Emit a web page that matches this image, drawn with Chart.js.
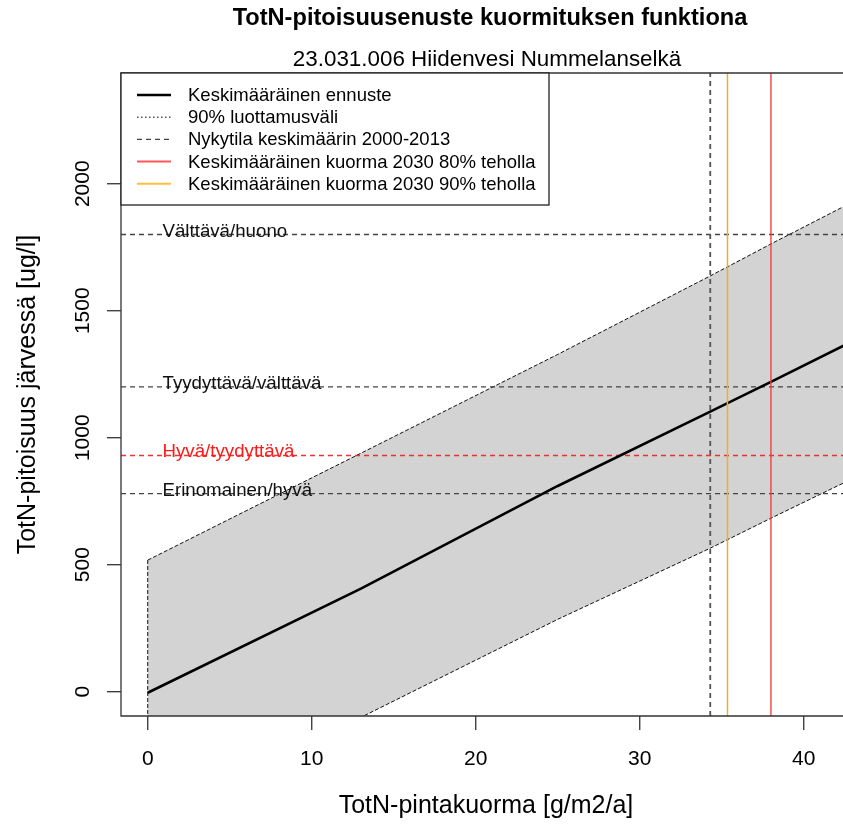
<!DOCTYPE html>
<html>
<head>
<meta charset="utf-8">
<title>TotN-pitoisuusenuste kuormituksen funktiona</title>
<script src="https://cdn.jsdelivr.net/npm/chart.js@4"></script>
<style>
  html, body { margin: 0; padding: 0; overflow: hidden; background: #ffffff; }
  #wrap { width: 843px; height: 830px; overflow: hidden; }
  canvas { display: block; }
</style>
</head>
<body>
<div id="wrap"><canvas id="chart" width="860" height="830"></canvas></div>
<script>
// Tick values on both axes
const xTicks = [0, 10, 20, 30, 40];
const yTicks = [0, 500, 1000, 1500, 2000];

// Axis ranges (g/m2/a and ug/l)
const xMin = -1.63, xMax = 43.37;
const yMin = -95.7, yMax = 2436;

// Predicted TotN concentration as a function of areal load
const loadX     = [0, 13, 25, 34.3, 38, 44];
const meanConc  = [-4, 406, 810, 1103, 1220, 1413];
const upperConc = [518, 939, 1328, 1637, 1763, 1962];
const lowerConc = [-515, -101, 285, 565, 683, 871];

// Class boundaries for the ecological status
const classNames  = ['Välttävä/huono', 'Tyydyttävä/välttävä', 'Hyvä/tyydyttävä', 'Erinomainen/hyvä'];
const classLimits = [1800, 1200, 930, 780];

// Loads marked with vertical lines
const currentLoad = 34.3;    // Nykytila keskimäärin 2000-2013
const load2030p80 = 38.0;    // kuorma 2030, 80 % teholla
const load2030p90 = 35.35;   // kuorma 2030, 90 % teholla

// Legend texts
const legendLabels = [
  'Keskimääräinen ennuste',
  '90% luottamusväli',
  'Nykytila keskimäärin 2000-2013',
  'Keskimääräinen kuorma 2030 80% teholla',
  'Keskimääräinen kuorma 2030 90% teholla'
];

const FONT = '"Liberation Sans", Arial, Helvetica, sans-serif';
const RED = 'rgba(240,60,60,0.9)';
const ORANGE = 'rgb(246,172,40)';
const GREY_DASH = '#444444';

// Closed polygon for the confidence band: upper edge forward, lower edge back
const bandPts = [];
loadX.forEach((x, i) => bandPts.push({ x: x, y: upperConc[i] }));
for (let i = loadX.length - 1; i >= 0; i--) bandPts.push({ x: loadX[i], y: lowerConc[i] });
bandPts.push({ x: loadX[0], y: upperConc[0] });

const meanPts = loadX.map((x, i) => ({ x: x, y: meanConc[i] }));

const classDatasets = classLimits.map((v, i) => ({
  label: classNames[i],
  data: [{ x: xMin, y: v }, { x: xMax, y: v }],
  borderColor: i === 2 ? 'rgba(235,30,30,0.9)' : GREY_DASH,
  borderWidth: 1.4,
  borderDash: [5, 4],
  pointRadius: 0,
  fill: false,
  order: 8
}));

function vline(x, color, width, dash) {
  return {
    data: [{ x: x, y: yMin }, { x: x, y: yMax }],
    borderColor: color,
    borderWidth: width,
    borderDash: dash,
    pointRadius: 0,
    fill: false,
    order: 3
  };
}

// Frame, axes, titles, legend and boundary labels in base-graphics style
const framePlugin = {
  id: 'frame',
  beforeDraw(chart) {
    const c = chart.ctx;
    c.save();
    c.fillStyle = '#ffffff';
    c.fillRect(0, 0, chart.width, chart.height);
    c.restore();
  },
  afterDraw(chart) {
    const c = chart.ctx;
    const a = chart.chartArea;
    const xs = chart.scales.x, ys = chart.scales.y;
    c.save();

    // plot box
    c.strokeStyle = '#333333';
    c.lineWidth = 1.3;
    c.setLineDash([]);
    c.beginPath();
    c.moveTo(a.right + 2, a.top); c.lineTo(a.left, a.top);
    c.lineTo(a.left, a.bottom); c.lineTo(a.right + 2, a.bottom);
    c.stroke();

    // x axis ticks and labels
    c.fillStyle = '#000000';
    c.font = '21px ' + FONT;
    c.textAlign = 'center';
    c.textBaseline = 'middle';
    xTicks.forEach(t => {
      const px = xs.getPixelForValue(t);
      c.beginPath(); c.moveTo(px, a.bottom); c.lineTo(px, a.bottom + 14); c.stroke();
      c.fillText(String(t), px, a.bottom + 43);
    });

    // y axis ticks and rotated labels
    yTicks.forEach(t => {
      const py = ys.getPixelForValue(t);
      c.beginPath(); c.moveTo(a.left, py); c.lineTo(a.left - 14, py); c.stroke();
      c.save();
      c.translate(a.left - 38, py);
      c.rotate(-Math.PI / 2);
      c.fillText(String(t), 0, 0);
      c.restore();
    });

    // titles
    const cx = (a.left + a.right) / 2;
    c.font = 'bold 23.6px ' + FONT;
    c.fillText('TotN-pitoisuusenuste kuormituksen funktiona', cx, 18);
    c.font = '22.4px ' + FONT;
    c.fillText('23.031.006 Hiidenvesi Nummelanselkä', cx - 3, 60);
    c.font = '25px ' + FONT;
    c.fillText('TotN-pintakuorma [g/m2/a]', cx - 4, 806);
    c.save();
    c.translate(28, (a.top + a.bottom) / 2);
    c.rotate(-Math.PI / 2);
    c.fillText('TotN-pitoisuus järvessä [ug/l]', 0, 0);
    c.restore();

    // labels on the class boundaries
    c.font = '18.7px ' + FONT;
    c.textAlign = 'left';
    c.textBaseline = 'alphabetic';
    classLimits.forEach((v, i) => {
      c.fillStyle = i === 2 ? '#ff1a1a' : '#111111';
      c.fillText(classNames[i], xs.getPixelForValue(0.9), ys.getPixelForValue(v) + 2);
    });

    // legend box
    const lx = a.left, ly = a.top, lw = 428, lh = 132;
    c.fillStyle = '#ffffff';
    c.fillRect(lx, ly, lw, lh);
    c.strokeStyle = '#222222';
    c.lineWidth = 1.3;
    c.strokeRect(lx, ly, lw, lh);
    const styles = [
      { color: '#000000', width: 2.6, dash: [] },
      { color: '#555555', width: 1.4, dash: [1.5, 2.5] },
      { color: GREY_DASH, width: 1.4, dash: [5, 4] },
      { color: 'rgba(255,70,70,0.9)', width: 2, dash: [] },
      { color: 'rgba(255,190,60,1)', width: 2, dash: [] }
    ];
    c.font = '18.5px ' + FONT;
    c.textBaseline = 'middle';
    legendLabels.forEach((txt, i) => {
      const y = ly + 22 + i * 22.2;
      const s = styles[i];
      c.strokeStyle = s.color;
      c.lineWidth = s.width;
      c.setLineDash(s.dash);
      c.beginPath(); c.moveTo(lx + 16, y); c.lineTo(lx + 50, y); c.stroke();
      c.setLineDash([]);
      c.fillStyle = '#000000';
      c.fillText(txt, lx + 67, y + 1);
    });
    c.restore();
  }
};

new Chart(document.getElementById('chart'), {
  type: 'line',
  data: {
    datasets: [
      {
        label: '90% luottamusväli',
        data: bandPts,
        borderColor: '#111111',
        borderWidth: 1,
        borderDash: [4, 2],
        backgroundColor: '#d3d3d3',
        pointRadius: 0,
        fill: 'shape',
        order: 10
      },
      ...classDatasets,
      {
        label: 'Keskimääräinen ennuste',
        data: meanPts,
        borderColor: '#000000',
        borderWidth: 2.6,
        pointRadius: 0,
        fill: false,
        order: 5
      },
      vline(currentLoad, '#555555', 1.8, [5, 4]),
      vline(load2030p90, ORANGE, 1.5, []),
      vline(load2030p80, RED, 1.5, [])
    ]
  },
  options: {
    responsive: false,
    animation: false,
    events: [],
    layout: { padding: { left: 121, top: 73, right: 1, bottom: 114 } },
    scales: {
      x: { type: 'linear', min: xMin, max: xMax, display: false },
      y: { type: 'linear', min: yMin, max: yMax, display: false }
    },
    plugins: {
      legend: { display: false },
      tooltip: { enabled: false },
      title: { display: false }
    }
  },
  plugins: [framePlugin]
});
</script>
</body>
</html>
